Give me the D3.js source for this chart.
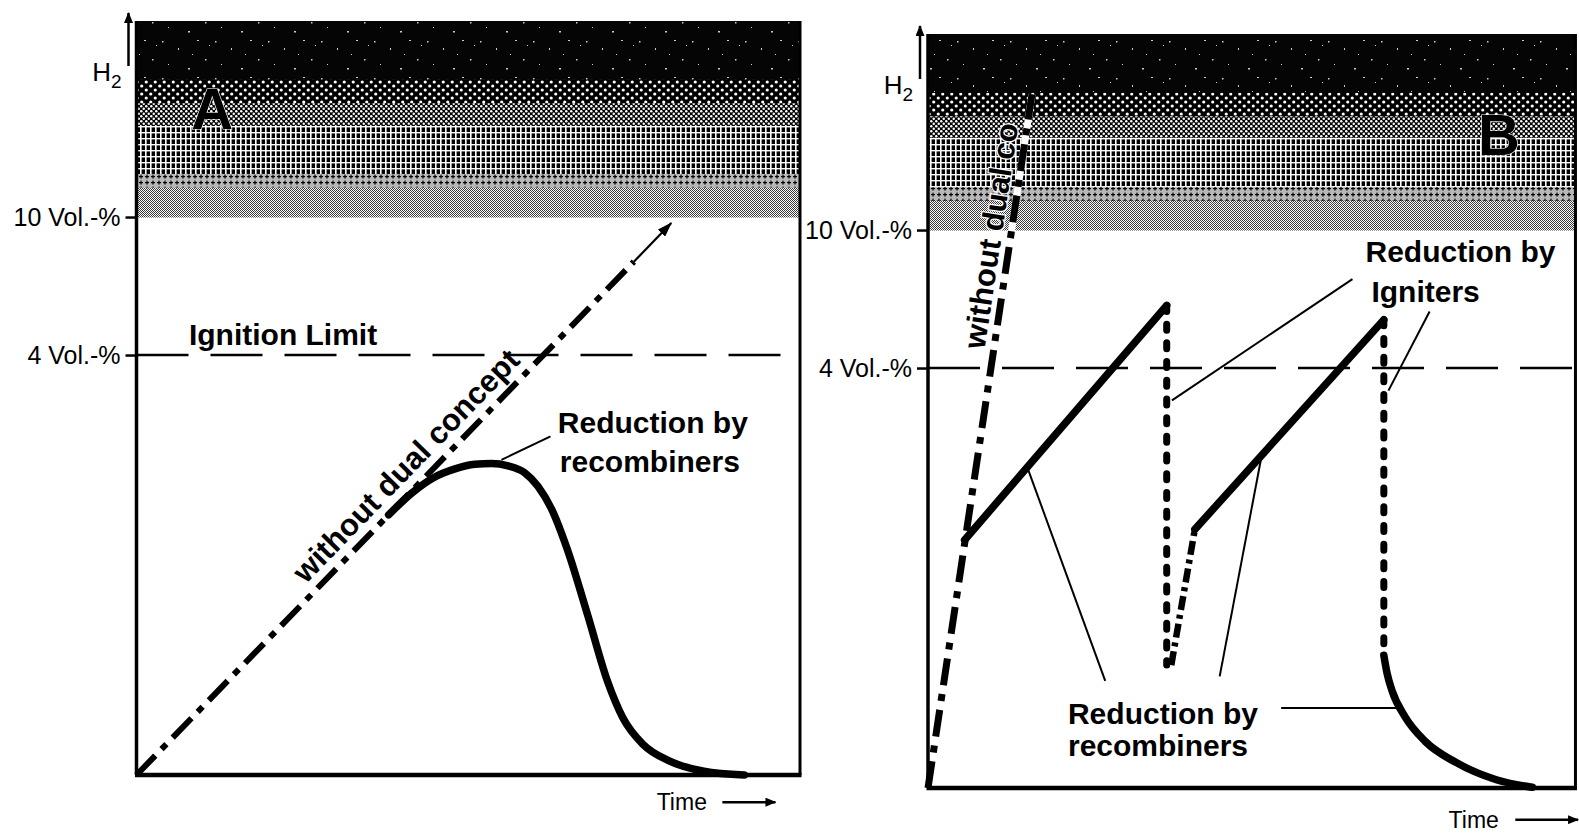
<!DOCTYPE html>
<html><head><meta charset="utf-8">
<script src="https://cdn.jsdelivr.net/npm/d3@7"></script>
<style>
html,body{margin:0;padding:0;background:#fff;}
svg{display:block;}
text{font-family:"Liberation Sans",Arial,Helvetica,sans-serif;}
</style></head><body>
<svg id="chart" width="1579" height="835"></svg>
<script>
// ---------------- data (relative H2 level 0-100, time 0-100) ----------------
const yTickLabels = ["4 Vol.-%", "10 Vol.-%"];
const yTickValues = [55.7, 74];
const ignitionLimit = 55.7;
const flammableFloor = 74;
const panelLetters = ["A", "B"];
const timeLabel = "Time";
const h2Label = ["H", "2"];

// Panel A
const withoutA = [[0, 0], [80.6, 73.2]];
const recombA = [[38, 34.5], [41.5, 37.4], [44.7, 39.4], [48, 40.6], [51, 41.2], [53.5, 41.3], [56, 41],
  [58.5, 40.1], [60.5, 38.3], [62.6, 35.2], [64.9, 30], [68, 21.2], [71, 12.4], [73.3, 7.6],
  [76.3, 4.1], [80.2, 1.9], [85.5, 0.5], [91.6, 0]];
const textsA = ["Reduction by", "recombiners", "Ignition Limit"];
const textPosA = [[63.5, 45.3], [63.8, 40.2], [7.9, 57]];
const leadersA = [[[62.4, 44.9], [55, 41.8]]];
const rotatedA = "without dual concept";

// Panel B
const withoutB = [[0, 0], [15.9, 92]];
const rise1B = [[5.6, 32.9], [36.5, 64]];
const ignite1B = [[36.5, 64], [36.5, 16.3]];
const restart2B = [[37.2, 16.3], [40.8, 34.3]];
const rise2B = [[40.8, 34.3], [69.7, 62.1]];
const ignite2B = [[69.7, 62.1], [69.7, 17.6]];
const recombB = [[69.7, 17.6], [70.2, 15.2], [71, 12.8], [72.9, 9.5], [76, 6.2], [80.7, 3.4], [86.9, 1.1], [92.4, 0.1]];
const textsB = ["Reduction by", "Igniters", "Reduction by", "recombiners"];
const textPosB = [[66.9, 69.8], [67.8, 64.5], [21.4, 8.5], [21.4, 4.2]];
const leadersB = [
  [[64.9, 67.5], [37.3, 51.4]],
  [[76.7, 63.2], [70.4, 52.7]],
  [[15.2, 42.5], [27.1, 14.2]],
  [[51, 44], [44.6, 14.8]],
  [[54, 10.6], [72.6, 10.6]]
];
const rotatedB = "without dual co";

// ---------------- drawing ----------------
const svg = d3.select("#chart");
svg.append("rect").attr("width", 1579).attr("height", 835).attr("fill", "#fff");
const defs = svg.append("defs");

function pattern(id, w, h, bg) {
  const p = defs.append("pattern").attr("id", id).attr("patternUnits", "userSpaceOnUse")
    .attr("width", w).attr("height", h);
  p.append("rect").attr("width", w).attr("height", h).attr("fill", bg);
  return p;
}
// speckled black
const ps = pattern("pSpeck", 53, 37, "#050505");
[[3, 4, 1.5, 1.5], [19, 11, 1, 2], [38, 3, 2, 1], [46, 22, 1.5, 1.5], [9, 27, 1, 1], [29, 31, 2, 1.5], [33, 17, 1, 1], [50, 8, 1, 1]]
  .forEach(r => ps.append("rect").attr("x", r[0]).attr("y", r[1]).attr("width", r[2]).attr("height", r[3]).attr("fill", "#ccc"));
const pb = pattern("pDotsBig", 9, 8, "#000");
[[2.25, 2], [6.75, 6]].forEach(c => pb.append("circle").attr("cx", c[0]).attr("cy", c[1]).attr("r", 1.6).attr("fill", "#fff"));
const pd = pattern("pDotsDense", 5, 5, "#000");
[[1.25, 1.25], [3.75, 3.75]].forEach(c => pd.append("circle").attr("cx", c[0]).attr("cy", c[1]).attr("r", 1.25).attr("fill", "#fff"));
const pg = pattern("pGrid", 5, 6, "#000");
pg.append("rect").attr("x", 0).attr("y", 0).attr("width", 1.6).attr("height", 6).attr("fill", "#fff");
pg.append("rect").attr("x", 0).attr("y", 0).attr("width", 5).attr("height", 1.4).attr("fill", "#fff");
const pp = pattern("pPlus", 6, 6, "#b8b8b8");
pp.append("rect").attr("x", 2.4).attr("y", 0.6).attr("width", 1.2).attr("height", 4).attr("fill", "#000");
pp.append("rect").attr("x", 1).attr("y", 2).attr("width", 4).attr("height", 1.2).attr("fill", "#000");
const pc = pattern("pChecker", 2, 2, "#fff");
pc.append("rect").attr("x", 0).attr("y", 0).attr("width", 1).attr("height", 1).attr("fill", "#3a3a3a");
pc.append("rect").attr("x", 1).attr("y", 1).attr("width", 1).attr("height", 1).attr("fill", "#3a3a3a");

const shadeBands = [
  { from: 0, to: 0.30, fill: "url(#pSpeck)" },
  { from: 0.30, to: 0.42, fill: "url(#pDotsBig)" },
  { from: 0.42, to: 0.53, fill: "url(#pDotsDense)" },
  { from: 0.53, to: 0.78, fill: "url(#pGrid)" },
  { from: 0.78, to: 0.85, fill: "url(#pPlus)" },
  { from: 0.85, to: 1.0, fill: "url(#pChecker)" }
];

function marker(id, len, wid) {
  defs.append("marker").attr("id", id).attr("viewBox", `0 0 ${len} ${wid}`)
    .attr("refX", len - 1).attr("refY", wid / 2).attr("markerWidth", len).attr("markerHeight", wid)
    .attr("markerUnits", "userSpaceOnUse").attr("orient", "auto")
    .append("path").attr("d", `M0,0L${len},${wid / 2}L0,${wid}Z`).attr("fill", "#000");
}
marker("headS", 11, 9);
marker("headL", 15, 10);

const BOLD = { "font-weight": "bold", "font-size": 30 };

function drawPanel(cfg) {
  const x = d3.scaleLinear().domain([0, 100]).range(cfg.xRange);
  const y = d3.scaleLinear().domain([0, 100]).range(cfg.yRange);
  const line = d3.line().x(d => x(d[0])).y(d => y(d[1]));
  const g = svg.append("g");
  const top = y(100), bot = y(flammableFloor), x0 = x(0), x1 = x(cfg.right);

  // shading of the flammable / detonable region
  shadeBands.forEach(b => {
    g.append("rect").attr("x", x0).attr("y", top + (bot - top) * b.from)
      .attr("width", x1 - x0).attr("height", (bot - top) * (b.to - b.from) + 0.5)
      .attr("fill", b.fill);
  });

  // ignition limit
  g.append("path").attr("d", line([[0, ignitionLimit], [cfg.right, ignitionLimit]]))
    .attr("fill", "none").attr("stroke", "#000").attr("stroke-width", 2.5).attr("stroke-dasharray", "52,22");

  // y axis ticks
  const ax = d3.axisLeft(y).tickValues(yTickValues).tickFormat((d, i) => yTickLabels[i]).tickSize(11).tickPadding(5);
  const axg = g.append("g").attr("transform", `translate(${x0},0)`).call(ax);
  axg.select(".domain").remove();
  axg.selectAll(".tick line").attr("stroke", "#000").attr("stroke-width", 2.5);
  axg.selectAll(".tick text").attr("font-size", 25).attr("fill", "#000")
    .attr("font-family", '"Liberation Sans",Arial,sans-serif');

  cfg.drawSeries(g, x, y, line);

  // frame
  g.append("line").attr("x1", x0).attr("x2", x0).attr("y1", top).attr("y2", y(0)).attr("stroke", "#000").attr("stroke-width", 3.5);
  g.append("line").attr("x1", x0 - 1.5).attr("x2", x1 + 1.5).attr("y1", y(0)).attr("y2", y(0)).attr("stroke", "#000").attr("stroke-width", 4.5);
  g.append("line").attr("x1", x1).attr("x2", x1).attr("y1", top).attr("y2", y(0)).attr("stroke", "#000").attr("stroke-width", 3);

  // H2 label with arrow
  g.append("line").attr("x1", x0 - 8).attr("x2", x0 - 8).attr("y1", top + 45).attr("y2", top - 8)
    .attr("stroke", "#000").attr("stroke-width", 2.5).attr("marker-end", "url(#headS)");
  const h2 = g.append("text").attr("x", x0 - 15).attr("y", top + 60).attr("text-anchor", "end")
    .attr("font-size", 26).attr("fill", "#000");
  h2.append("tspan").text(h2Label[0]);
  h2.append("tspan").attr("font-size", 19).attr("dy", 7).text(h2Label[1]);

  // Time label
  g.append("text").attr("x", x(cfg.timeAt[0])).attr("y", y(cfg.timeAt[1])).attr("font-size", 23).attr("fill", "#000").text(timeLabel);
  g.append("line").attr("x1", x(cfg.timeArrow[0][0])).attr("x2", x(cfg.timeArrow[1][0]))
    .attr("y1", y(cfg.timeArrow[0][1])).attr("y2", y(cfg.timeArrow[1][1]))
    .attr("stroke", "#000").attr("stroke-width", 2.5).attr("marker-end", "url(#headS)");

  // panel letter
  g.append("text").attr("x", x(cfg.letterAt[0])).attr("y", y(cfg.letterAt[1])).attr("text-anchor", "middle")
    .attr("dy", "0.36em").attr("font-size", 58).attr("font-weight", "bold").attr("fill", "#000")
    .attr("stroke", "#fff").attr("stroke-width", 1.2).attr("paint-order", "stroke").text(cfg.letter);

  // annotations
  cfg.texts.forEach((t, i) => {
    g.append("text").attr("x", x(cfg.textPos[i][0])).attr("y", y(cfg.textPos[i][1]))
      .attr("font-size", BOLD["font-size"]).attr("font-weight", BOLD["font-weight"]).attr("fill", "#000").text(t);
  });
  cfg.leaders.forEach(l => {
    g.append("path").attr("d", line(l)).attr("fill", "none").attr("stroke", "#000").attr("stroke-width", 2);
  });
}

const dashDot = "27,9,7,9";
const solidW = 7.5;

// Panel A
drawPanel({
  letter: panelLetters[0], letterAt: [11.4, 88.5],
  xRange: [136.5, 800], yRange: [775, 21], right: 100,
  timeAt: [78.4, -4.7], timeArrow: [[88.3, -3.6], [96.3, -3.6]],
  texts: textsA, textPos: textPosA, leaders: leadersA,
  drawSeries: (g, x, y, line) => {
    const tCut = 0.93;
    const a = withoutA[0], b = withoutA[1];
    const mid = [a[0] + (b[0] - a[0]) * tCut, a[1] + (b[1] - a[1]) * tCut];
    g.append("path").attr("d", line([a, mid])).attr("fill", "none").attr("stroke", "#000")
      .attr("stroke-width", 6).attr("stroke-dasharray", dashDot);
    g.append("path").attr("d", line([mid, b])).attr("fill", "none").attr("stroke", "#000")
      .attr("stroke-width", 2.2).attr("marker-end", "url(#headL)");
    g.append("path").attr("d", d3.line().x(d => x(d[0])).y(d => y(d[1])).curve(d3.curveMonotoneX)(recombA))
      .attr("fill", "none").attr("stroke", "#000").attr("stroke-width", solidW).attr("stroke-linecap", "round");
    // rotated label along the line
    const p0 = [x(a[0]), y(a[1])], p1 = [x(b[0]), y(b[1])];
    const ang = Math.atan2(p1[1] - p0[1], p1[0] - p0[0]);
    const t = 0.533, off = 22;
    const fx = p0[0] + t * (p1[0] - p0[0]) + Math.sin(ang) * off;
    const fy = p0[1] + t * (p1[1] - p0[1]) - Math.cos(ang) * off;
    g.append("text").attr("transform", `translate(${fx},${fy}) rotate(${ang * 180 / Math.PI})`)
      .attr("text-anchor", "middle").attr("dy", "0.35em").attr("font-size", 31).attr("font-weight", "bold")
      .attr("fill", "#000").text(rotatedA);
  }
});

// Panel B
drawPanel({
  letter: panelLetters[1], letterAt: [87.3, 86.7],
  xRange: [928, 1582], yRange: [788, 34], right: 99,
  timeAt: [79.6, -5.3], timeArrow: [[89.8, -4.2], [99.4, -4.2]],
  texts: textsB, textPos: textPosB, leaders: leadersB,
  drawSeries: (g, x, y, line) => {
    g.append("path").attr("d", line(withoutB)).attr("fill", "none").attr("stroke", "#fff").attr("stroke-width", 7);
    g.append("path").attr("d", line(withoutB)).attr("fill", "none").attr("stroke", "#000")
      .attr("stroke-width", 7).attr("stroke-dasharray", dashDot);
    g.append("path").attr("d", line(restart2B)).attr("fill", "none").attr("stroke", "#000")
      .attr("stroke-width", 6.5).attr("stroke-dasharray", "14,5,4,5");
    [rise1B, rise2B].forEach(s => g.append("path").attr("d", line(s)).attr("fill", "none")
      .attr("stroke", "#000").attr("stroke-width", solidW).attr("stroke-linecap", "round"));
    [ignite1B, ignite2B].forEach(s => g.append("path").attr("d", line(s)).attr("fill", "none")
      .attr("stroke", "#000").attr("stroke-width", 7).attr("stroke-linecap", "round").attr("stroke-dasharray", "6,12.7"));
    g.append("path").attr("d", d3.line().x(d => x(d[0])).y(d => y(d[1])).curve(d3.curveMonotoneX)(recombB))
      .attr("fill", "none").attr("stroke", "#000").attr("stroke-width", solidW).attr("stroke-linecap", "round");
    // rotated label along the steep line
    const a = withoutB[0], b = withoutB[1];
    const p0 = [x(a[0]), y(a[1])], p1 = [x(b[0]), y(b[1])];
    const ang = Math.atan2(p1[1] - p0[1], p1[0] - p0[0]);
    const t = 0.63, off = 9;
    const fx = p0[0] + t * (p1[0] - p0[0]) + Math.sin(ang) * off;
    const fy = p0[1] + t * (p1[1] - p0[1]) - Math.cos(ang) * off;
    g.append("text").attr("transform", `translate(${fx},${fy}) rotate(${ang * 180 / Math.PI})`)
      .attr("text-anchor", "start").attr("font-size", 31).attr("font-weight", "bold")
      .attr("fill", "#000").attr("stroke", "#fff").attr("stroke-width", 2.5).attr("paint-order", "stroke")
      .text(rotatedB);
  }
});
</script>
</body></html>
